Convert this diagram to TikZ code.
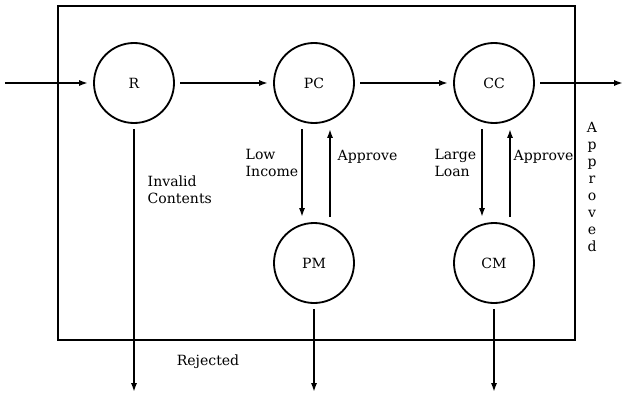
\documentclass[tikz,border=0pt]{standalone}
\usepackage{fontspec}
\setmainfont{DejaVu Serif}
\usetikzlibrary{positioning}
\usetikzlibrary{arrows.meta}

\begin{document}
\begin{tikzpicture}[
    node distance=4.5cm, on grid, % centre to centre spacing of the stations
    font=\normalsize,
    >={Latex[length=2.2mm,width=1.5mm]},
    line width=1.3pt
  ]

  % Styles for stations and labels
  \tikzset{
    station/.style={draw, circle, minimum size=2cm, inner sep=0pt, outer sep=0.15cm},
    note/.style={align=left, inner sep=2pt}
  }

  \useasboundingbox (-3.35,2.075) rectangle (12.25,-7.8);

  % Top row: reception and the two checks
  \node (R) [station] {R};
  \node (PC) [station, right=of R] {PC};
  \node (CC) [station, right=of PC] {CC};

  % Manual review stations
  \node (PM) [station, below=of PC] {PM};
  \node (CM) [station, below=of CC] {CM};

  % System boundary
  \draw (-1.9,1.925) rectangle (11.025,-6.425);

  % Free ends of the flows
  \coordinate (in) at (-3.225,0);
  \coordinate (out) at (12.225,0);
  \coordinate (floor) at (0,-7.725);

  % Main flow left to right
  \draw[->] (in) -- (R);
  \draw[->] (R) -- (PC);
  \draw[->] (PC) -- (CC);
  \draw[->] (CC) -- (out);

  % Rejections leaving downward
  \draw[->] (R.south) -- node[note, right, pos=0.23, xshift=0.25cm] {Invalid\\Contents} (R.south |- floor);
  \draw[->] (PM) -- (PM |- floor);
  \draw[->] (CM) -- (CM |- floor);
  \node (rejected) [note] at (1.85,-6.975) {Rejected};

  % Checks handing over to review and back
  \draw[->] ([xshift=-0.3cm]PC.south) -- node[note, left, pos=0.39] {Low\\Income} ([xshift=-0.3cm]PM.north);
  \draw[->] ([xshift=0.4cm]PM.north) -- node[note, right, pos=0.68, xshift=0.1cm] {Approve} ([xshift=0.4cm]PC.south);
  \draw[->] ([xshift=-0.3cm]CC.south) -- node[note, left, pos=0.39, xshift=-0.05cm] {Large\\Loan} ([xshift=-0.3cm]CM.north);
  \draw[->] ([xshift=0.4cm]CM.north) -- node[note, right, pos=0.68] {Approve} ([xshift=0.4cm]CC.south);

  % Exit label, one letter per line
  \node (approved) [align=center] at (11.45,-2.6) {A\\p\\p\\r\\o\\v\\e\\d};

\end{tikzpicture}
\end{document}
